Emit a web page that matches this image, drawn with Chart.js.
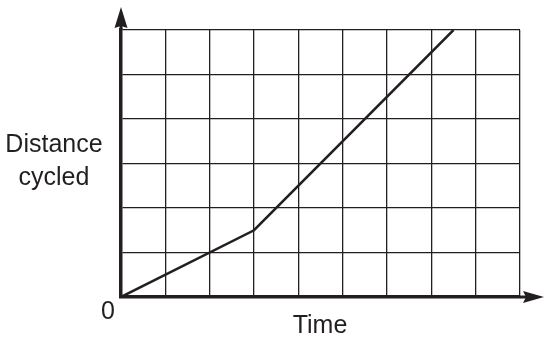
<!DOCTYPE html>
<html>
<head>
<meta charset="utf-8">
<script src="https://cdn.jsdelivr.net/npm/chart.js@4"></script>
<style>
    html, body { margin: 0; padding: 0; background: #fff; }
    #wrap { width: 550px; height: 348px; }
</style>
</head>
<body>
<div id="wrap"><canvas id="chart" width="550" height="348"></canvas></div>
<script>
// Distance cycled against time
const timeValues = [0, 3, 7.5];
const distanceValues = [0, 1.5, 6];
const xTicks = [0, 1, 2, 3, 4, 5, 6, 7, 8, 9];
const yTicks = [0, 1, 2, 3, 4, 5, 6];

const ink = '#231f20';
const font = '"Liberation Sans", Arial, sans-serif';

// arrows on the axes and the labels
const axisDecor = {
    id: 'axisDecor',
    afterDraw(chart) {
        const ctx = chart.ctx;
        const a = chart.chartArea;
        ctx.save();
        ctx.fillStyle = ink;
        ctx.strokeStyle = ink;
        ctx.lineWidth = 3;

        // y axis stub + arrow
        ctx.beginPath();
        ctx.moveTo(a.left, a.top);
        ctx.lineTo(a.left, a.top - 6);
        ctx.stroke();
        ctx.beginPath();
        ctx.moveTo(a.left, a.top - 23);
        ctx.lineTo(a.left + 6.5, a.top - 2);
        ctx.lineTo(a.left, a.top - 4);
        ctx.lineTo(a.left - 6.5, a.top - 2);
        ctx.closePath();
        ctx.fill();

        // x axis stub + arrow
        ctx.beginPath();
        ctx.moveTo(a.right, a.bottom);
        ctx.lineTo(a.right + 8, a.bottom);
        ctx.stroke();
        ctx.beginPath();
        ctx.moveTo(a.right + 24, a.bottom);
        ctx.lineTo(a.right + 3, a.bottom - 6);
        ctx.lineTo(a.right + 6, a.bottom);
        ctx.lineTo(a.right + 3, a.bottom + 6);
        ctx.closePath();
        ctx.fill();

        // labels
        ctx.font = '25px ' + font;
        ctx.textAlign = 'center';
        ctx.textBaseline = 'alphabetic';
        ctx.fillText('0', a.left - 13, a.bottom + 22);
        ctx.fillText('Time', 320, 333);
        ctx.fillText('Distance', 54, 152);
        ctx.fillText('cycled', 54, 185);
        ctx.restore();
    }
};

new Chart(document.getElementById('chart'), {
    type: 'line',
    data: {
        datasets: [{
            data: timeValues.map((t, i) => ({ x: t, y: distanceValues[i] })),
            borderColor: ink,
            borderWidth: 2.5,
            pointRadius: 0,
            tension: 0,
            fill: false
        }]
    },
    options: {
        responsive: false,
        animation: false,
        layout: { padding: { left: 121, right: 30, top: 30, bottom: 51 } },
        plugins: { legend: { display: false }, tooltip: { enabled: false } },
        scales: {
            x: {
                type: 'linear',
                min: xTicks[0],
                max: xTicks[xTicks.length - 1],
                afterBuildTicks: s => { s.ticks = xTicks.map(v => ({ value: v })); },
                ticks: { display: false },
                grid: { color: ink, lineWidth: 1.3, drawTicks: false },
                border: { display: true, color: ink, width: 3.5 }
            },
            y: {
                type: 'linear',
                min: yTicks[0],
                max: yTicks[yTicks.length - 1],
                afterBuildTicks: s => { s.ticks = yTicks.map(v => ({ value: v })); },
                ticks: { display: false },
                grid: { color: ink, lineWidth: 1.3, drawTicks: false },
                border: { display: true, color: ink, width: 3.5 }
            }
        }
    },
    plugins: [axisDecor]
});
</script>
</body>
</html>
